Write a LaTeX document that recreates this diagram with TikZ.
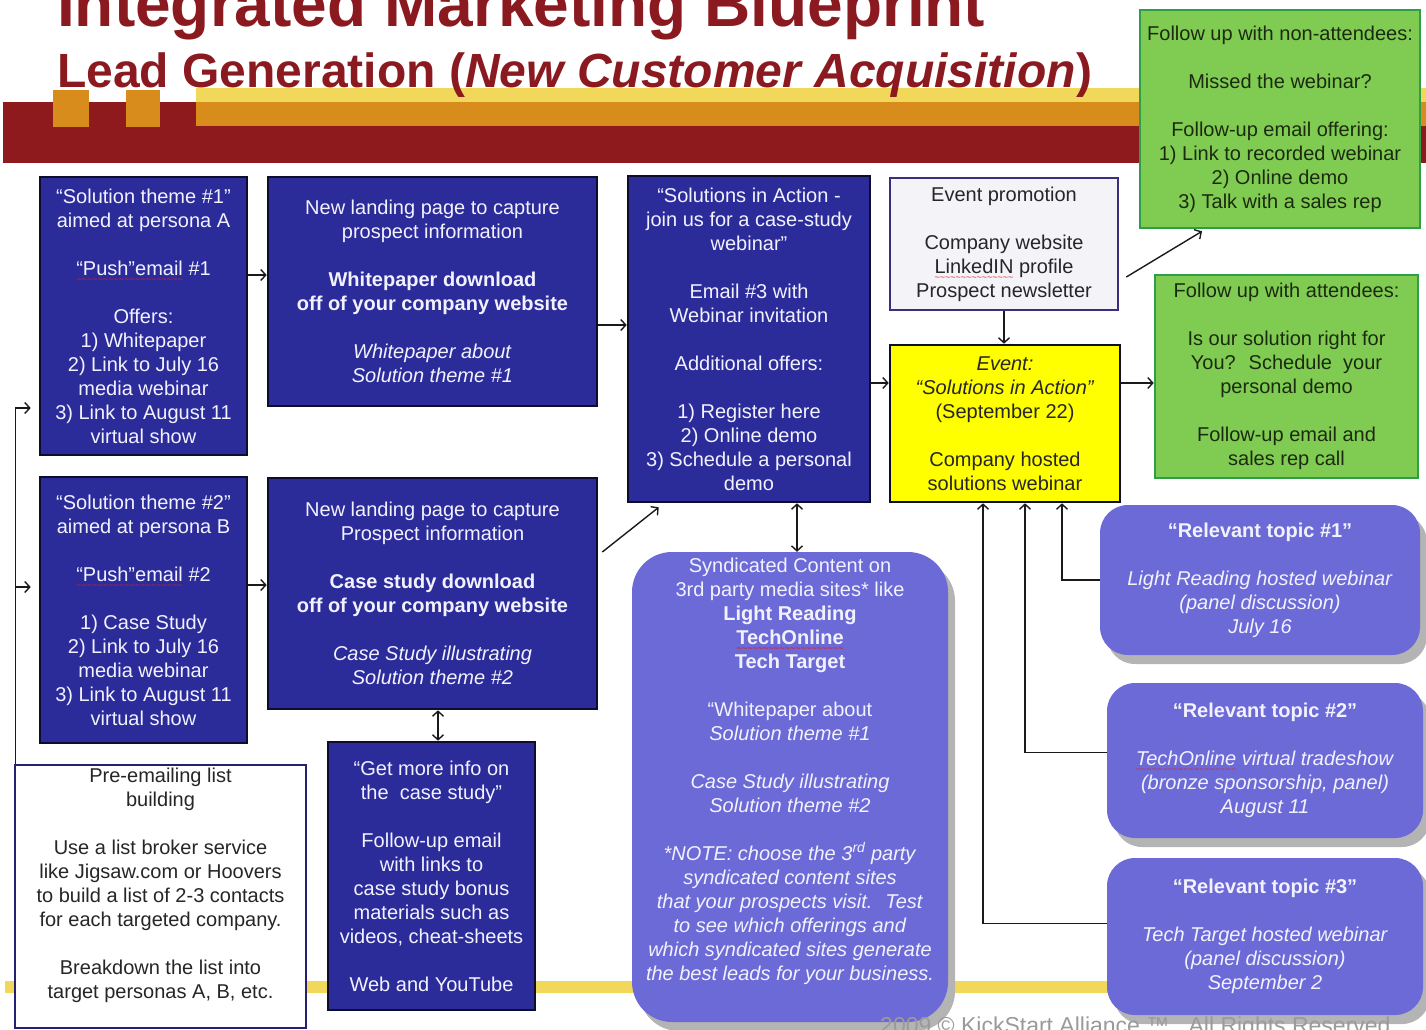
\documentclass[tikz,border=0pt]{standalone}
\usepackage{fontspec}
\setmainfont{Liberation Sans}
\usepackage{tikz}
\usetikzlibrary{arrows.meta,shadows}
\definecolor{titlered}{HTML}{8B1A20}
\definecolor{bandred}{HTML}{8E1A1E}
\definecolor{bandorange}{HTML}{D78C1C}
\definecolor{bandyellow}{HTML}{F2D85A}
\definecolor{boxblue}{HTML}{2C2B9A}
\definecolor{boxedge}{HTML}{0E0E2C}
\definecolor{paletext}{HTML}{F2F2FF}
\definecolor{softblue}{HTML}{6C6AD6}
\definecolor{shadowgray}{HTML}{B4B4B4}
\definecolor{leafgreen}{HTML}{80CC52}
\definecolor{leafedge}{HTML}{2E9E48}
\definecolor{leaftext}{HTML}{1C2A10}
\definecolor{promofill}{HTML}{F4F4F8}
\definecolor{promoedge}{HTML}{3B2E7E}
\definecolor{listedge}{HTML}{24226E}
\definecolor{eventyellow}{HTML}{FFFF00}
\definecolor{inktext}{HTML}{262626}
\definecolor{inkline}{HTML}{1A1A1A}
\definecolor{footgray}{HTML}{9A9A9A}
\definecolor{spellred}{HTML}{E0202A}

\newcommand\bodyfont{\fontsize{20}{24}\selectfont}
\newsavebox\wavebox
\newcommand\spellwave[1]{\sbox\wavebox{#1}\leavevmode
  \rlap{\raisebox{-7pt}[0pt][0pt]{\textcolor{spellred}{\hbox to\wd\wavebox{%
    \fontsize{9}{9}\selectfont\xleaders\hbox{\char"7E}\hfil}}}}\usebox\wavebox}

\begin{document}
\begin{tikzpicture}[x=1pt,y=-1pt,
  navybox/.style={draw=boxedge,line width=2.6pt,fill=boxblue,text=paletext,
    align=center,font=\bodyfont,inner sep=0pt},
  plainbox/.style={draw=#1,line width=2.6pt,text=inktext,
    align=center,font=\bodyfont,inner sep=0pt},
  leafbox/.style={draw=leafedge,line width=2.6pt,fill=leafgreen,text=leaftext,
    align=center,font=\bodyfont,inner sep=0pt},
  softbox/.style={fill=softblue,text=paletext,rounded corners=#1,
    drop shadow={shadow xshift=7pt,shadow yshift=-9pt,fill=shadowgray,opacity=1},
    align=center,font=\bodyfont,inner sep=0pt},
  conn/.style={draw=inkline,line width=1.4pt,-{Straight Barb[length=5pt,width=11pt]}},
  twoway/.style={conn,{Straight Barb[length=5pt,width=11pt]}-{Straight Barb[length=5pt,width=11pt]}}]

  \path[use as bounding box] (0,0) rectangle (1426,1030);
  \clip (0,0) rectangle (1426,1030);

  % banner and page trim
  \fill[bandred] (3,102) rectangle (1426,163);
  \fill[bandyellow] (196,88) rectangle (1426,102);
  \fill[bandorange] (196,102) rectangle (1426,126);
  \fill[bandorange] (53,90) rectangle (89,127);
  \fill[bandorange] (126,90) rectangle (160,127);
  \fill[bandyellow] (5,981) rectangle (1112,993);

  \node[anchor=base west,inner sep=0pt,text=titlered,
    font=\fontsize{64}{70}\selectfont\bfseries] (maintitle) at (57,27)
    {Integrated Marketing Blueprint};
  \node[anchor=base west,inner sep=0pt,text=titlered,
    font=\fontsize{48}{54}\selectfont\bfseries] (subtitle) at (57,88)
    {Lead Generation (\textit{New Customer Acquisition})};

  % left column
  \node[navybox,minimum width=207,minimum height=278] (sol1) at (143.5,316)
    {“Solution theme \#1”\\ aimed at persona A\\[24pt]
     \spellwave{“Push”email} \#1\\[24pt]
     Offers:\\ 1) Whitepaper\\ 2) Link to July 16\\ media webinar\\
     3) Link to August 11\\ virtual show};
  \node[navybox,minimum width=207,minimum height=266] (sol2) at (143.5,610)
    {“Solution theme \#2”\\ aimed at persona B\\[24pt]
     \spellwave{“Push”email} \#2\\[24pt]
     1) Case Study\\ 2) Link to July 16\\ media webinar\\
     3) Link to August 11\\ virtual show};
  \node[plainbox=listedge,fill=white,minimum width=291,minimum height=263] (prelist) at (160.5,896.5)
    {Pre-emailing list\\ building\\[24pt]
     Use a list broker service\\ like Jigsaw.com or Hoovers\\
     to build a list of 2-3 contacts\\ for each targeted company.\\[24pt]
     Breakdown the list into\\ target personas A, B, etc.\\[2pt] \mbox{}};

  % landing pages
  \node[navybox,minimum width=329,minimum height=229] (land1) at (432.5,291.5)
    {New landing page to capture\\ prospect information\\[24pt]
     \textbf{Whitepaper download}\\ \textbf{off of your company website}\\[24pt]
     \textit{Whitepaper about}\\ \textit{Solution theme \#1}};
  \node[navybox,minimum width=329,minimum height=231] (land2) at (432.5,593.5)
    {New landing page to capture\\ Prospect information\\[24pt]
     \textbf{Case study download}\\ \textbf{off of your company website}\\[24pt]
     \textit{Case Study illustrating}\\ \textit{Solution theme \#2}};
  \node[navybox,minimum width=207,minimum height=268] (moreinfo) at (431.5,876)
    {“Get more info on\\ the~ case study”\\[24pt]
     Follow-up email\\ with links to\\ case study bonus\\
     materials such as\\ videos, cheat-sheets\\[24pt]
     Web and YouTube};

  % webinar and syndication
  \node[navybox,minimum width=242,minimum height=326] (webinar) at (749,339)
    {“Solutions in Action -\\ join us for a case-study\\ webinar”\\[24pt]
     Email \#3 with\\ Webinar invitation\\[24pt]
     Additional offers:\\[24pt]
     1) Register here\\ 2) Online demo\\ 3) Schedule a personal\\ demo};
  \node[softbox=40pt,minimum width=316,minimum height=470] (synd) at (790,787)
    {Syndicated Content on\\ 3rd party media sites* like\\
     \textbf{Light Reading}\\ \textbf{\spellwave{TechOnline}}\\ \textbf{Tech Target}\\[24pt]
     “Whitepaper about\\ \textit{Solution theme \#1}\\[24pt]
     \textit{Case Study illustrating}\\ \textit{Solution theme \#2}\\[24pt]
     \textit{*NOTE: choose the 3\textsuperscript{rd} party}\\
     \textit{syndicated content sites}\\
     \textit{that your prospects visit.~ Test}\\
     \textit{to see which offerings and}\\
     \textit{which syndicated sites generate}\\
     \textit{the best leads for your business.}\\[12pt] \mbox{}};

  % event
  \node[plainbox=promoedge,fill=promofill,minimum width=228,minimum height=132] (promo) at (1004,244)
    {Event promotion\\[24pt]
     Company website\\ \spellwave{LinkedIN} profile\\ Prospect newsletter};
  \node[plainbox=boxedge,fill=eventyellow,minimum width=230,minimum height=157] (event) at (1005,423.5)
    {\textit{Event:}\\ \textit{“Solutions in Action”}\\ (September 22)\\[24pt]
     Company hosted\\ solutions webinar};

  % follow ups
  \node[leafbox,minimum width=280,minimum height=218] (nonatt) at (1280,119)
    {Follow up with non-attendees:\\[24pt]
     Missed the webinar?\\[24pt]
     Follow-up email offering:\\ 1) Link to recorded webinar\\
     2) Online demo\\ 3) Talk with a sales rep};
  \node[leafbox,minimum width=263,minimum height=203] (att) at (1286.5,376.5)
    {Follow up with attendees:\\[24pt]
     Is our solution right for\\ You?~ Schedule~ your\\ personal demo\\[24pt]
     Follow-up email and\\ sales rep call};

  % relevant topics
  \node[softbox=28pt,minimum width=320,minimum height=150] (topic1) at (1260,580)
    {\textbf{“Relevant topic \#1”}\\[24pt]
     \textit{Light Reading hosted webinar}\\ \textit{(panel discussion)}\\ \textit{July 16}};
  \node[softbox=28pt,minimum width=316,minimum height=155] (topic2) at (1265,760.5)
    {\textbf{“Relevant topic \#2”}\\[24pt]
     \textit{\spellwave{TechOnline} virtual tradeshow}\\
     \textit{(bronze sponsorship, panel)}\\ \textit{August 11}};
  \node[softbox=28pt,minimum width=316,minimum height=157] (topic3) at (1265,936.5)
    {\textbf{“Relevant topic \#3”}\\[24pt]
     \textit{Tech Target hosted webinar}\\ \textit{(panel discussion)}\\ \textit{September 2}};

  \node[anchor=base west,inner sep=0pt,text=footgray,
    font=\fontsize{23}{28}\selectfont] (footer) at (880,1033)
    {2009 © KickStart Alliance ™~~ All Rights Reserved};

  % connectors
  \coordinate (feed) at ([xshift=2pt]prelist.north west);
  \draw[conn] (feed) |- ([shift={(-8,92)}]sol1.west);
  \draw[conn] (feed) |- ([shift={(-8,-23)}]sol2.west);
  \draw[conn] ([yshift=41pt]sol1.east) -- ([yshift=41pt]sol1.east -| land1.west);
  \draw[conn] ([yshift=25pt]sol2.east) -- ([yshift=25pt]sol2.east -| land2.west);
  \draw[conn] ([yshift=-33.5pt]land1.east) -- ([yshift=-33.5pt]land1.east -| webinar.west);
  \draw[conn] ([shift={(4,-41.5)}]land2.east) -- ([shift={(32,4)}]webinar.south west);
  \draw[twoway] ([xshift=6.5pt]moreinfo.north |- land2.south) -- ([xshift=6.5pt]moreinfo.north);
  \draw[twoway] ([xshift=48pt]webinar.south) -- ([xshift=48pt]webinar.south |- synd.north);
  \draw[conn] ([yshift=-44pt]webinar.east) -- ([yshift=-44pt]webinar.east -| event.west);
  \draw[conn] (promo.south) -- (promo.south |- event.north);
  \draw[conn] ([yshift=40.5pt]event.east) -- ([yshift=40.5pt]event.east -| att.west);
  \draw[conn] ([shift={(7,33)}]promo.east) -- ([shift={(-78,2)}]nonatt.south);
  \draw[conn] (topic1.west) -| ([xshift=57pt]event.south);
  \draw[conn] ([yshift=8pt]topic2.west) -| ([xshift=20pt]event.south);
  \draw[conn] ([yshift=13pt]topic3.west) -| ([xshift=-22pt]event.south);
\end{tikzpicture}
\end{document}
